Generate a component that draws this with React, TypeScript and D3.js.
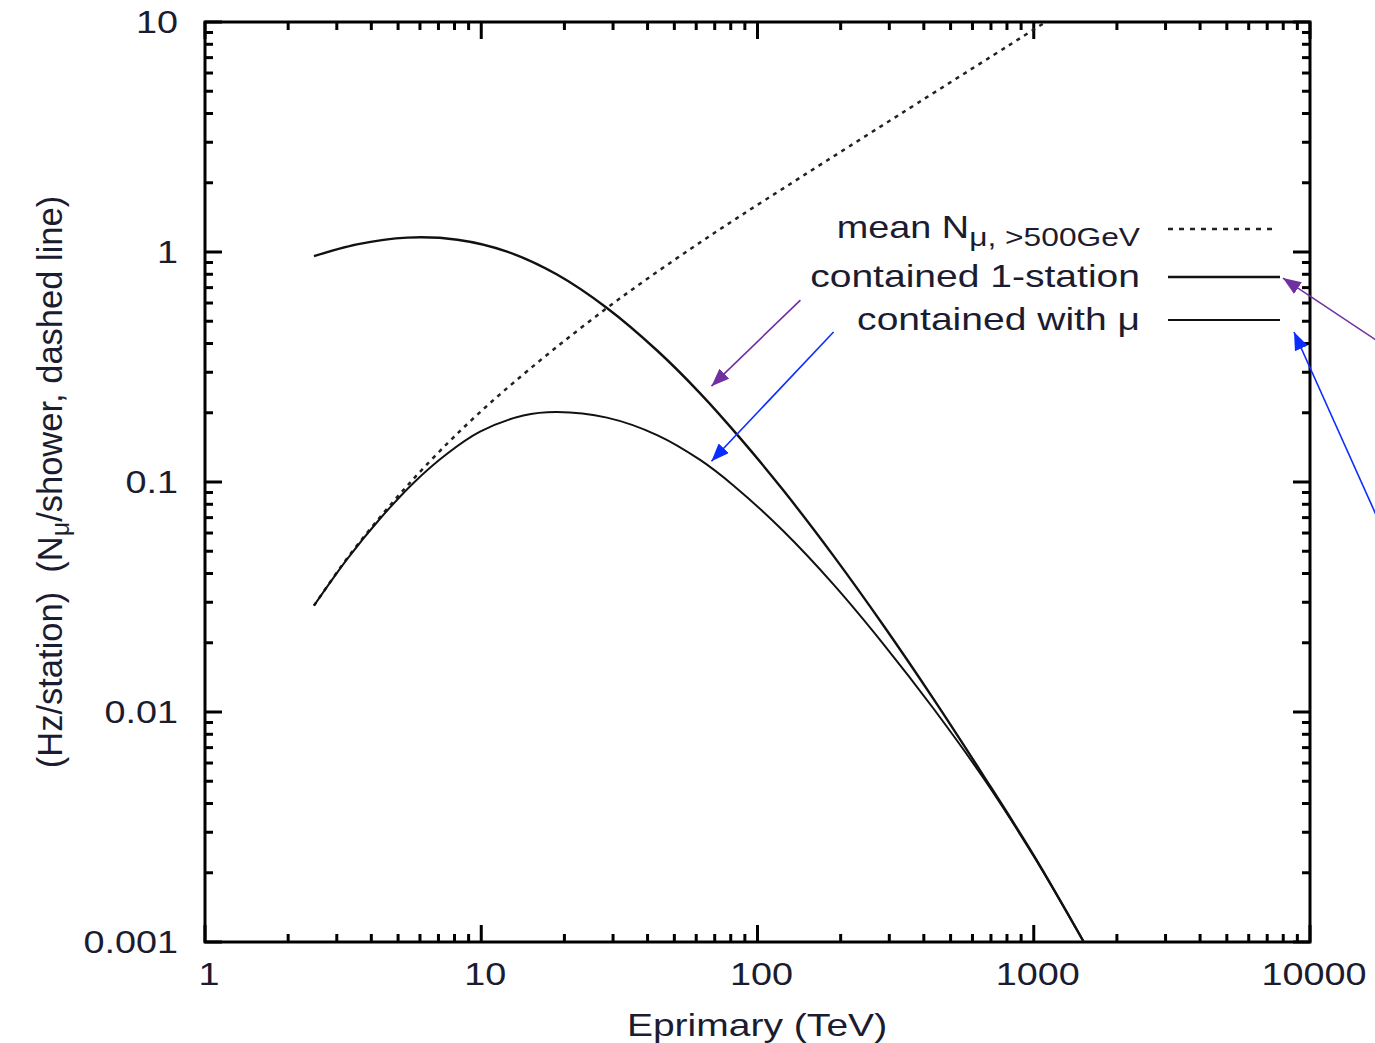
import React from "react";
import * as d3 from "d3";

// Primary energy (TeV) and rates for each curve
const oneStationE = [2.48, 3.55, 5.4, 8.2, 12.4, 18.8, 28.5, 43.3, 62, 87, 124, 189, 287, 434, 658, 1000, 1518];
const oneStationRate = [0.959, 1.08, 1.155, 1.131, 1.004, 0.798, 0.571, 0.373, 0.243, 0.154, 0.092, 0.0475, 0.0236, 0.01138, 0.00528, 0.00238, 0.001];

const withMuE = [2.48, 3.27, 4.3, 5.66, 7.5, 9.9, 14.2, 18.8, 28.5, 43.3, 62, 82, 124, 189, 287, 434, 658, 1000, 1518];
const withMuRate = [0.029, 0.0462, 0.0692, 0.0986, 0.1324, 0.1656, 0.1945, 0.2014, 0.1905, 0.16, 0.1247, 0.0964, 0.0612, 0.0357, 0.0196, 0.01033, 0.00515, 0.00236, 0.001];

const meanNmuE = [2.48, 3.27, 4.3, 5.66, 7.5, 9.35, 12, 18.8, 32.5, 57, 84, 143, 330, 1000, 1104];
const meanNmuValue = [0.029, 0.0466, 0.0703, 0.1026, 0.1462, 0.1888, 0.2472, 0.3873, 0.6412, 1.028, 1.4, 2.109, 3.99, 9.268, 10];

const xTickLabels = ["1", "10", "100", "1000", "10000"];
const yTickLabels = ["0.001", "0.01", "0.1", "1", "10"];

// Annotation arrows: [E start, value start, E tip, value tip]
const purpleArrows = [
  [143, 0.618, 68.1, 0.261],
  [17340, 0.414, 7980, 0.77],
];
const blueArrows = [
  [188.5, 0.449, 68.1, 0.123],
  [17340, 0.072, 8750, 0.449],
];

const W = 1375;
const H = 1043;
const left = 205, right = 1310, top = 22, bottom = 942;
const FONT = "'Liberation Sans', Arial, Helvetica, sans-serif";
const TEXT = "#1c1c30";
const SX = 1.22;

export default function App() {
  const x = d3.scaleLog().domain([1, 10000]).range([left, right]);
  const y = d3.scaleLog().domain([0.001, 10]).range([bottom, top]);

  const line = d3
    .line<[number, number]>()
    .x((d) => x(d[0]))
    .y((d) => y(d[1]))
    .curve(d3.curveCatmullRom.alpha(0.5));

  const pts = (es: number[], vs: number[]) => es.map((e, i) => [e, vs[i]] as [number, number]);

  const xMinor: number[] = [];
  [1, 10, 100, 1000].forEach((d) => {
    for (let k = 2; k <= 9; k++) xMinor.push(d * k);
  });
  const yMinor: number[] = [];
  [0.001, 0.01, 0.1, 1].forEach((d) => {
    for (let k = 2; k <= 9; k++) yMinor.push(d * k);
  });
  const xMajor = xTickLabels.map(Number);
  const yMajor = yTickLabels.map(Number);

  const MAJ = 17, MIN = 8;

  const label = (tx: number, ty: number, s: string, anchor: string, size = 31, key?: string) => (
    <text
      key={key}
      transform={`translate(${tx},${ty}) scale(${SX},1)`}
      textAnchor={anchor}
      fontFamily={FONT}
      fontSize={size}
      fill={TEXT}
    >
      {s}
    </text>
  );

  const legendX = 1140;
  const lineX0 = 1168, lineX1 = 1280;

  return (
    <svg
      width={W}
      height={H}
      viewBox={`0 0 ${W} ${H}`}
      style={{ position: "absolute", left: 0, top: 0, background: "#fff" }}
    >
      <defs>
        <marker id="headPurple" viewBox="0 0 18 14" refX="18" refY="7" markerWidth="18" markerHeight="14" markerUnits="userSpaceOnUse" orient="auto">
          <path d="M0,0 L18,7 L0,14 z" fill="#7030a0" />
        </marker>
        <marker id="headBlue" viewBox="0 0 18 14" refX="18" refY="7" markerWidth="18" markerHeight="14" markerUnits="userSpaceOnUse" orient="auto">
          <path d="M0,0 L18,7 L0,14 z" fill="#0a2dff" />
        </marker>
        <clipPath id="plotClip">
          <rect x={left} y={top} width={right - left} height={bottom - top} />
        </clipPath>
      </defs>

      {/* ticks on all four sides */}
      <g stroke="#000" strokeWidth={3}>
        {xMajor.map((v) => (
          <g key={"xM" + v}>
            <line x1={x(v)} x2={x(v)} y1={bottom} y2={bottom - MAJ} />
            <line x1={x(v)} x2={x(v)} y1={top} y2={top + MAJ} />
          </g>
        ))}
        {xMinor.map((v) => (
          <g key={"xm" + v}>
            <line x1={x(v)} x2={x(v)} y1={bottom} y2={bottom - MIN} />
            <line x1={x(v)} x2={x(v)} y1={top} y2={top + MIN} />
          </g>
        ))}
        {yMajor.map((v) => (
          <g key={"yM" + v}>
            <line x1={left} x2={left + MAJ} y1={y(v)} y2={y(v)} />
            <line x1={right} x2={right - MAJ} y1={y(v)} y2={y(v)} />
          </g>
        ))}
        {yMinor.map((v) => (
          <g key={"ym" + v}>
            <line x1={left} x2={left + MIN} y1={y(v)} y2={y(v)} />
            <line x1={right} x2={right - MIN} y1={y(v)} y2={y(v)} />
          </g>
        ))}
      </g>
      <rect x={left} y={top} width={right - left} height={bottom - top} fill="none" stroke="#000" strokeWidth={3} />

      {/* tick labels */}
      {xMajor.map((v, i) => label(x(v) + 4, bottom + 43, xTickLabels[i], "middle", 31, "xl" + i))}
      {yMajor.map((v, i) => label(178, y(v) + 11, yTickLabels[i], "end", 31, "yl" + i))}

      {/* curves */}
      <g clipPath="url(#plotClip)" fill="none" stroke="#111">
        <path d={line(pts(meanNmuE, meanNmuValue)) || ""} strokeWidth={2.5} strokeDasharray="4,5" stroke="#222" />
        <path d={line(pts(oneStationE, oneStationRate)) || ""} strokeWidth={2.4} />
        <path d={line(pts(withMuE, withMuRate)) || ""} strokeWidth={2} />
      </g>

      {/* legend */}
      <g fontFamily={FONT} fill={TEXT}>
        <text transform={`translate(${legendX},238) scale(${SX},1)`} textAnchor="end" fontSize={31}>
          mean N<tspan fontSize={26} dy={8}>μ, &gt;500GeV</tspan>
        </text>
        {label(legendX, 287, "contained 1-station", "end", 32)}
        {label(legendX, 330, "contained with μ", "end", 32)}
      </g>
      <line x1={lineX0} x2={1272} y1={229} y2={229} stroke="#222" strokeWidth={2.5} strokeDasharray="5,6" />
      <line x1={lineX0} x2={lineX1} y1={277} y2={277} stroke="#111" strokeWidth={2.4} />
      <line x1={lineX0} x2={lineX1} y1={320} y2={320} stroke="#111" strokeWidth={2} />

      {/* axis titles */}
      {label(757, 1036, "Eprimary (TeV)", "middle", 32)}
      <text
        transform="translate(62,482) rotate(-90)"
        textAnchor="middle"
        fontFamily={FONT}
        fontSize={34.5}
        fill={TEXT}
      >
        {"(Hz/station)\u00A0 (N"}
        <tspan fontSize={25} dy={7}>μ</tspan>
        <tspan dy={-7}>/shower, dashed line)</tspan>
      </text>

      {/* annotation arrows */}
      {purpleArrows.map((a, i) => (
        <line key={"pa" + i} x1={x(a[0])} y1={y(a[1])} x2={x(a[2])} y2={y(a[3])} stroke="#7030a0" strokeWidth={1.6} markerEnd="url(#headPurple)" />
      ))}
      {blueArrows.map((a, i) => (
        <line key={"ba" + i} x1={x(a[0])} y1={y(a[1])} x2={x(a[2])} y2={y(a[3])} stroke="#0a2dff" strokeWidth={1.6} markerEnd="url(#headBlue)" />
      ))}
    </svg>
  );
}
